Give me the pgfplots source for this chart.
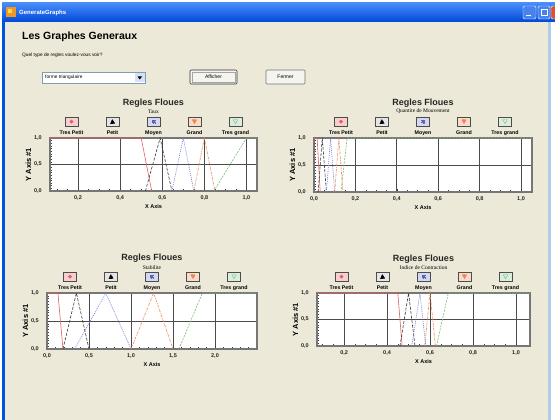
\documentclass[border=0pt]{standalone}
\usepackage{pgfplots}
\pgfplotsset{compat=1.18}
\usepackage{fontspec}
\setmainfont{Liberation Sans}
\newfontfamily\serifsmall{Liberation Serif}

\definecolor{winbg}{RGB}{236,233,216}
\definecolor{xpblue}{RGB}{0,84,227}
\definecolor{rborder}{RGB}{175,205,235}
\definecolor{tbtop}{RGB}{70,140,250}
\definecolor{tbbot}{RGB}{0,72,215}
\definecolor{icono}{RGB}{240,150,40}
\definecolor{icony}{RGB}{255,220,80}
\definecolor{btnblue}{RGB}{70,130,240}
\definecolor{btnred}{RGB}{225,80,40}
\definecolor{comboborder}{RGB}{127,157,185}
\definecolor{combobtn}{RGB}{215,225,245}
\definecolor{btnface}{RGB}{245,244,238}
\definecolor{cred}{RGB}{228,95,95}
\definecolor{cblk}{RGB}{55,55,55}
\definecolor{cblu}{RGB}{115,125,215}
\definecolor{cora}{RGB}{235,135,80}
\definecolor{cgrn}{RGB}{120,185,120}
\definecolor{framec}{RGB}{118,118,118}
\definecolor{gridc}{RGB}{75,75,75}

\newcommand{\fs}[1]{\fontsize{#1}{#1}\selectfont}
\newcommand{\lgd}[1]{\addlegendentry{\makebox[41pt][c]{#1}}}

\pgfplotsset{
  licon/.style n args={2}{legend image code/.code={%
     \draw[overlay,solid,draw=black!70,line width=0.6pt,fill=#1] (14pt,7pt) rectangle (27pt,16pt);
     #2}},
  tp/.style={color=cred, line width=0.6pt, solid, no marks,
     licon={cred!30}{\fill[overlay,cred] (20.5pt,11.5pt) circle (1.6pt);}},
  pe/.style={color=cblk, line width=0.6pt, dash pattern=on 3pt off 1.5pt, no marks,
     licon={black!10}{\fill[overlay,black] (18.3pt,9.6pt)--(22.7pt,9.6pt)--(20.5pt,13.6pt)--cycle;}},
  mo/.style={color=cblu, line width=0.6pt, dash pattern=on 1pt off 1pt, no marks,
     licon={cblu!30}{\fill[overlay,cblu!80!black] (19pt,10pt) rectangle (22pt,13pt);}},
  gr/.style={color=cora, line width=0.6pt, dash pattern=on 2.5pt off 1pt on 0.7pt off 1pt, no marks,
     licon={cora!30}{\fill[overlay,cora] (18.3pt,13.4pt)--(22.7pt,13.4pt)--(20.5pt,9.4pt)--cycle;}},
  tg/.style={color=cgrn, line width=0.6pt, dash pattern=on 2pt off 1.2pt, no marks,
     licon={cgrn!25}{\draw[overlay,solid,cgrn,line width=0.4pt] (18.3pt,13.4pt)--(22.7pt,13.4pt)--(20.5pt,9.4pt)--cycle;}},
  fz/.style={
    scale only axis,
    clip=false,
    anchor=north west,
    axis background/.style={fill=white},
    axis line style={draw=framec,line width=1.4pt},
    ymin=0,ymax=1,ytick={0,0.5,1},
    minor ytick={0.05,0.1,...,0.96},
    tick pos=left,
    tick align=inside,
    major tick length=3pt,
    minor tick length=2pt,
    every tick/.style={draw=black!75,line width=0.5pt},
    xmajorgrids, ymajorgrids,
    major grid style={draw=gridc,line width=0.7pt},
    ticklabel style={font=\fs{5.5}\bfseries, text=black!85, inner sep=0pt},
    yticklabel style={xshift=-8pt},
    xticklabel style={yshift=-4.5pt},
    /pgf/number format/assume math mode=true,
    /pgf/number format/fixed,
    /pgf/number format/fixed zerofill,
    /pgf/number format/precision=1,
    /pgf/number format/use comma,
    xlabel={X Axis}, ylabel={Y Axis \#1},
    xlabel style={font=\fs{5.5}\bfseries, inner sep=0pt, at={(axis description cs:0.5,0)}, anchor=north, yshift=-13pt},
    ylabel style={font=\fs{7.5}\bfseries, inner sep=0pt, at={(axis description cs:0,0.5)}, anchor=south, yshift=18.5pt},
    legend columns=5,
    legend style={draw=none, fill=none, at={(0.5,1)}, anchor=south, yshift=2pt,
       inner sep=0pt, nodes={inner sep=0pt}, column sep=0pt, font=\fs{5.3}\bfseries},
  },
}

\begin{document}
\begin{tikzpicture}
\begin{scope}[x=1pt,y=-1pt]
\path[use as bounding box] (0,0) rectangle (555,420);
\fill[white] (0,0) rectangle (555,420);
\fill[winbg] (2,3) rectangle (551,420);
\fill[xpblue] (2,3) rectangle (5,420);
\fill[rborder] (548,22) rectangle (551,420);
% title bar
\shade[top color=tbtop, bottom color=tbbot] (2,3) rectangle (555,22);
\fill[icono] (6,7) rectangle (16,17);
\fill[icony] (8,9) rectangle (12,13);
\node[anchor=west, text=white, font=\fs{6}\bfseries, inner sep=0pt] at (19,12.5) {GenerateGraphs};
\filldraw[fill=btnblue, draw=white, rounded corners=1.5pt] (523,6) rectangle (536,19);
\draw[white, line width=1pt] (526,15.5) -- (531,15.5);
\filldraw[fill=btnblue, draw=white, rounded corners=1.5pt] (538,6) rectangle (550,19);
\draw[white, line width=0.8pt] (541,9) rectangle (547,15.5);
\filldraw[fill=btnred, draw=white, rounded corners=1.5pt] (551,6) rectangle (562,19);
% heading
\node[anchor=west, font=\fs{10.5}\bfseries, inner sep=0pt] at (22,37) {Les Graphes Generaux};
\node[anchor=west, font=\fs{4.8}, inner sep=0pt] at (22,55) {Quel type de regles voulez-vous voir?};
% combo
\filldraw[fill=white, draw=comboborder, line width=0.6pt] (42,72) rectangle (145,83);
\fill[combobtn] (135,73) rectangle (144.5,82.5);
\fill[black] (137.5,76.5) -- (142,76.5) -- (139.75,79.5) -- cycle;
\node[anchor=west, font=\fs{4.8}, inner sep=0pt] at (45,77.5) {forme triangulaire};
% buttons
\filldraw[fill=btnface, draw=black!80, line width=0.6pt, rounded corners=1pt] (190,70) rectangle (237,84);
\draw[draw=black!35, line width=0.4pt] (192,72) rectangle (235,82);
\node[font=\fs{5}, inner sep=0pt] at (213.5,77) {Afficher};
\filldraw[fill=btnface, draw=black!55, line width=0.6pt, rounded corners=1pt] (266,70) rectangle (305,84);
\node[font=\fs{5}, inner sep=0pt] at (285.5,77) {Fermer};
% titles
\node[font=\fs{9}\bfseries, text=black!85, inner sep=0pt] at (153.5,103) {Regles Floues};
\node[font=\serifsmall\fs{5.5}, inner sep=0pt] at (153.5,111.5) {Taux};
\node[font=\fs{9}\bfseries, text=black!85, inner sep=0pt] at (423,103) {Regles Floues};
\node[font=\serifsmall\fs{5.5}, inner sep=0pt] at (423,111.5) {Quantite de Mouvement};
\node[font=\fs{9}\bfseries, text=black!85, inner sep=0pt] at (152,258) {Regles Floues};
\node[font=\serifsmall\fs{5.5}, inner sep=0pt] at (152,267.5) {Stabilite};
\node[font=\fs{9}\bfseries, text=black!85, inner sep=0pt] at (423.5,259) {Regles Floues};
\node[font=\serifsmall\fs{5.5}, inner sep=0pt] at (423.5,268) {Indice de Contraction};
\end{scope}

% ---------- Plot 1 : Taux
\begin{axis}[fz, at={(50pt,-138pt)}, width=207pt, height=53pt,
  xmin=0.067, xmax=1.05, xtick={0.2,0.4,0.6,0.8,1.0}, minor xtick={0.1,0.15,...,1.01}]
\addplot[tp] coordinates {(0.067,1) (0.5,1) (0.55,0)}; \lgd{Tres Petit}
\addplot[pe] coordinates {(0.52,0) (0.59,1) (0.646,0)}; \lgd{Petit}
\addplot[mo] coordinates {(0.646,0) (0.70,1) (0.75,0)}; \lgd{Moyen}
\addplot[gr] coordinates {(0.75,0) (0.80,1) (0.85,0)}; \lgd{Grand}
\addplot[tg] coordinates {(0.845,0) (1.0,1) (1.05,1)}; \lgd{Tres grand}
\end{axis}

% ---------- Plot 2 : Quantite de Mouvement
\begin{axis}[fz, at={(314pt,-138pt)}, width=218pt, height=54pt,
  xmin=0, xmax=1.053, xtick={0,0.2,0.4,0.6,0.8,1.0}, minor xtick={0.05,0.1,...,1.01}]
\addplot[tp] coordinates {(0,1) (0.015,1) (0.03,0)}; \lgd{Tres Petit}
\addplot[pe] coordinates {(0.02,0) (0.04,1) (0.06,0)}; \lgd{Petit}
\addplot[mo] coordinates {(0.06,0) (0.08,1) (0.10,0)}; \lgd{Moyen}
\addplot[gr] coordinates {(0.10,0) (0.12,1) (0.14,0)}; \lgd{Grand}
\addplot[tg] coordinates {(0.13,0) (0.16,1) (1.053,1)}; \lgd{Tres grand}
\end{axis}

% ---------- Plot 3 : Stabilite
\begin{axis}[fz, at={(47pt,-293pt)}, width=210pt, height=56pt,
  xmin=0, xmax=2.5, xtick={0,0.5,1.0,1.5,2.0}, minor xtick={0.1,0.2,...,2.41}]
\addplot[tp] coordinates {(0,1) (0.13,1) (0.19,0)}; \lgd{Tres Petit}
\addplot[pe] coordinates {(0.19,0) (0.35,1) (0.5,0)}; \lgd{Petit}
\addplot[mo] coordinates {(0.33,0) (0.70,1) (1.0,0)}; \lgd{Moyen}
\addplot[gr] coordinates {(1.0,0) (1.27,1) (1.5,0)}; \lgd{Grand}
\addplot[tg] coordinates {(1.57,0) (1.85,1) (2.5,1)}; \lgd{Tres grand}
\end{axis}

% ---------- Plot 4 : Indice de Contraction
\begin{axis}[fz, at={(317pt,-293pt)}, width=213pt, height=53pt,
  xmin=0.074, xmax=1.065, xtick={0.2,0.4,0.6,0.8,1.0}, minor xtick={0.1,0.15,...,1.01}]
\addplot[tp] coordinates {(0.074,1) (0.45,1) (0.47,0)}; \lgd{Tres Petit}
\addplot[pe] coordinates {(0.46,0) (0.50,1) (0.53,0)}; \lgd{Petit}
\addplot[mo] coordinates {(0.515,0) (0.553,1) (0.58,0)}; \lgd{Moyen}
\addplot[gr] coordinates {(0.575,0) (0.60,1) (0.625,0)}; \lgd{Grand}
\addplot[tg] coordinates {(0.63,0) (0.685,1) (1.065,1)}; \lgd{Tres grand}
\end{axis}
\end{tikzpicture}
\end{document}
